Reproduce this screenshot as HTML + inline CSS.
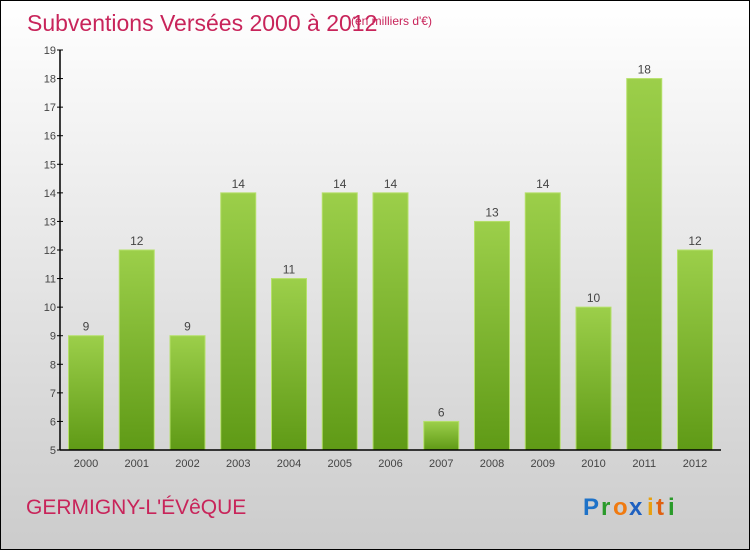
<!DOCTYPE html>
<html><head><meta charset="utf-8"><style>
body{margin:0}
#c{position:relative;width:748px;height:548px;border:1px solid #000;background:linear-gradient(#fff,#f2f2f2 25%,#d8d8d8 75%,#cccccc);font-family:"Liberation Sans",sans-serif;overflow:hidden}
</style></head><body>
<div id="c">
<svg width="748" height="548" id="svg">
<defs><linearGradient id="g" x1="0" y1="0" x2="0" y2="1"><stop offset="0" stop-color="#9ccf4a"/><stop offset="1" stop-color="#5f9a16"/></linearGradient></defs>
<text x="26" y="30" font-size="23" fill="#c8245a">Subventions Versées 2000 à 2012</text>
<text x="350" y="24" font-size="12" fill="#c8245a">(en milliers d'€)</text>
<text x="25" y="513" font-size="21" fill="#c8245a">GERMIGNY-L'ÉVêQUE</text>
<g font-size="24" font-weight="bold"><text x="582" y="514" fill="#1e72c8">P</text><text x="600" y="514" fill="#2a9a2a">r</text><text x="612" y="514" fill="#f07a10">o</text><text x="628" y="514" fill="#1e60c0">x</text><text x="646" y="514" fill="#e8a010">i</text><text x="655" y="514" fill="#e06010">t</text><text x="667" y="514" fill="#2a9a2a">i</text></g>
<g id="plot"></g>
</svg></div>
<script>
const categories=["2000","2001","2002","2003","2004","2005","2006","2007","2008","2009","2010","2011","2012"];
const values=[9,12,9,14,11,14,14,6,13,14,10,18,12];
const yTicks=[5,6,7,8,9,10,11,12,13,14,15,16,17,18,19];
const NS="http://www.w3.org/2000/svg";
const plot=document.getElementById("plot");
const x0=59,y0=449,yMin=5,yMax=19,pxPerUnit=400/(yMax-yMin);
const y=v=>y0-(v-yMin)*pxPerUnit;
const step=50.75;
const xc=i=>85+i*step;
function mk(t,a){const e=document.createElementNS(NS,t);for(const k in a)e.setAttribute(k,a[k]);plot.appendChild(e);return e;}
yTicks.forEach(t=>{
 const l=mk("line",{x1:x0-3,x2:x0+3,y1:y(t),y2:y(t),stroke:"#000"});
 
 
 const tx=mk("text",{x:x0-4,y:y(t)+4,"font-size":11,fill:"#444","text-anchor":"end"});
 tx.textContent=t;
 
 
});
values.forEach((v,i)=>{
 const r=mk("rect",{x:xc(i)-17.5,y:y(v),width:35,height:y0-y(v),fill:"url(#g)",stroke:"#b5e06a","stroke-width":1});
 
 
 const lt=mk("text",{x:xc(i),y:y(v)-5,"font-size":12,fill:"#444","text-anchor":"middle"});
 lt.textContent=v;
 
 
 const ct=mk("text",{x:xc(i),y:466,"font-size":11,fill:"#444","text-anchor":"middle"});
 ct.textContent=categories[i];
 
 
});
const ya=mk("line",{x1:x0,x2:x0,y1:y(yMax),y2:y0,stroke:"#000","stroke-width":1.5});


const xa=mk("line",{x1:x0,x2:720,y1:y0,y2:y0,stroke:"#000","stroke-width":1.5});


</script>
</body></html>
